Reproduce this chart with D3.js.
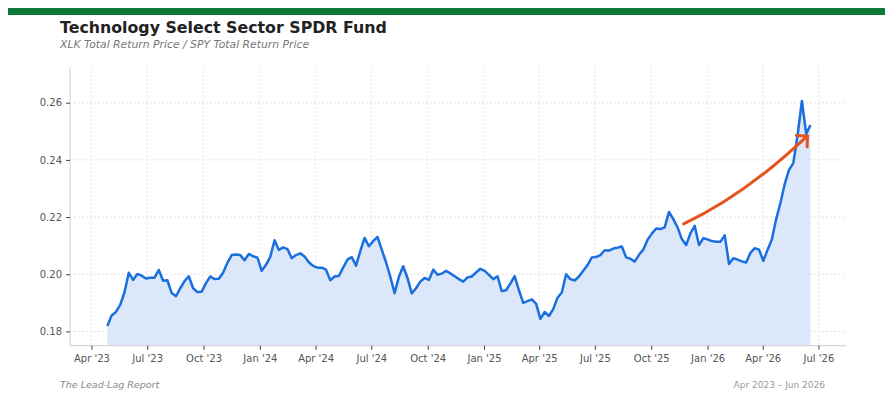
<!DOCTYPE html>
<html><head><meta charset="utf-8">
<script src="https://cdn.jsdelivr.net/npm/d3@7"></script>
<style>body{margin:0;background:#fff;} svg{display:block;font-family:"DejaVu Sans",sans-serif;}</style>
</head><body><svg id="c" width="885" height="399"></svg>
<script>
const title = "Technology Select Sector SPDR Fund";
const subtitle = "XLK Total Return Price / SPY Total Return Price";
const source = "The Lead-Lag Report";
const period = "Apr 2023 – Jun 2026";

// weekly observations starting at this date
const startDate = "2023-04-27";
const ratio = [
0.1819,0.1856,0.1868,0.1893,0.1937,0.2005,0.1980,0.2001,0.1995,0.1985,
0.1988,0.1988,0.2015,0.1977,0.1979,0.1934,0.1923,0.1951,0.1976,0.1993,
0.1951,0.1938,0.1939,0.1969,0.1992,0.1983,0.1984,0.2005,0.2040,0.2067,
0.2069,0.2067,0.2049,0.2071,0.2063,0.2058,0.2012,0.2033,0.2061,0.2119,
0.2085,0.2094,0.2088,0.2056,0.2067,0.2073,0.2062,0.2042,0.2029,0.2023,
0.2023,0.2016,0.1979,0.1992,0.1994,0.2023,0.2051,0.2060,0.2030,0.2081,
0.2127,0.2098,0.2116,0.2131,0.2086,0.2042,0.1991,0.1934,0.1991,0.2028,
0.1987,0.1933,0.1951,0.1974,0.1987,0.1980,0.2016,0.1998,0.2002,0.2012,
0.2003,0.1993,0.1983,0.1974,0.1989,0.1992,0.2006,0.2019,0.2012,0.1998,
0.1983,0.1993,0.1941,0.1944,0.1967,0.1993,0.1944,0.1900,0.1906,0.1912,
0.1897,0.1844,0.1868,0.1854,0.1878,0.1918,0.1936,0.2000,0.1983,0.1978,
0.1992,0.2012,0.2032,0.2059,0.2060,0.2067,0.2084,0.2083,0.2090,0.2093,
0.2097,0.2059,0.2054,0.2044,0.2068,0.2086,0.2121,0.2142,0.2160,0.2158,
0.2164,0.2218,0.2193,0.2164,0.2123,0.2102,0.2143,0.2169,0.2102,0.2126,
0.2122,0.2116,0.2114,0.2114,0.2136,0.2036,0.2056,0.2051,0.2045,0.2041,
0.2075,0.2091,0.2086,0.2047,0.2086,0.2122,0.2193,0.2250,0.2316,0.2365,
0.2389,0.2487,0.2606,0.2491,0.2522
];

const yTicks = [0.18, 0.20, 0.22, 0.24, 0.26];
const xTickDates = ["2023-04-01","2023-07-01","2023-10-01","2024-01-01","2024-04-01","2024-07-01","2024-10-01",
  "2025-01-01","2025-04-01","2025-07-01","2025-10-01","2026-01-01","2026-04-01","2026-07-01"];
const xTickLabels = ["Apr '23","Jul '23","Oct '23","Jan '24","Apr '24","Jul '24","Oct '24",
  "Jan '25","Apr '25","Jul '25","Oct '25","Jan '26","Apr '26","Jul '26"];
const xDomain = ["2023-02-25", "2026-08-15"];
const yDomain = [0.1750, 0.2725];

// trend arrow annotation (date, value): start, bend, end
const arrowDates = ["2025-11-23", "2026-03-03", "2026-06-13"];
const arrowValues = [0.2176, 0.2277, 0.2484];

const parse = d3.utcParse("%Y-%m-%d");
const start = parse(startDate);
const data = ratio.map((v, i) => ({ date: d3.utcDay.offset(start, 7 * i), value: v }));

const svg = d3.select("#c");
const L = 70, R = 846, T = 67, B = 345.7;

const x = d3.scaleUtc().domain(xDomain.map(parse)).range([L, R]);
const y = d3.scaleLinear().domain(yDomain).range([B, T]);

// top band
svg.append("rect").attr("x", 8).attr("y", 8).attr("width", 877).attr("height", 7).attr("fill", "#0d7a3a");

svg.append("text").attr("x", 60).attr("y", 33).attr("font-size", 15.8).attr("font-weight", "bold")
  .attr("fill", "#222").text(title);
svg.append("text").attr("x", 60).attr("y", 48).attr("font-size", 10.8).attr("font-style", "italic")
  .attr("fill", "#777").text(subtitle);

// grid
const grid = svg.append("g");
grid.selectAll("line.h").data(yTicks).join("line").attr("class", "h")
  .attr("x1", L).attr("x2", R).attr("y1", d => y(d)).attr("y2", d => y(d))
  .attr("stroke", "#e2e2e2").attr("stroke-dasharray", "2,2");
grid.selectAll("line.v").data(xTickDates).join("line").attr("class", "v")
  .attr("x1", d => x(parse(d))).attr("x2", d => x(parse(d))).attr("y1", T).attr("y2", B)
  .attr("stroke", "#e2e2e2").attr("stroke-dasharray", "2,2");

// area + line
svg.append("path").datum(data)
  .attr("d", d3.area().x(d => x(d.date)).y0(B).y1(d => y(d.value)))
  .attr("fill", "#dce8fa");
svg.append("path").datum(data)
  .attr("d", d3.line().x(d => x(d.date)).y(d => y(d.value)))
  .attr("fill", "none").attr("stroke", "#1a6fe0").attr("stroke-width", 2.5).attr("stroke-linejoin", "round");

// axes
const yAxis = svg.append("g").attr("transform", `translate(${L},0)`)
  .call(d3.axisLeft(y).tickValues(yTicks).tickFormat(d3.format(".2f")).tickSize(4).tickPadding(4));
const xAxis = svg.append("g").attr("transform", `translate(0,${B})`)
  .call(d3.axisBottom(x).tickValues(xTickDates.map(parse))
    .tickFormat((d, i) => xTickLabels[i]).tickSize(4).tickPadding(5));
[yAxis, xAxis].forEach(g => {
  g.select(".domain").attr("stroke", "#cfcfcf");
  g.selectAll(".tick line").attr("stroke", "#444");
  g.selectAll(".tick text").attr("fill", "#555").attr("font-size", 10).attr("font-family", "DejaVu Sans");
});
yAxis.select(".domain").attr("d", `M0,${T}V${B}`);
xAxis.select(".domain").attr("d", `M${L},0H${R}`);

// arrow
const ap = arrowDates.map((d, i) => [x(parse(d)), y(arrowValues[i])]);
const path = d3.path();
path.moveTo(ap[0][0], ap[0][1]);
path.quadraticCurveTo(ap[1][0], ap[1][1], ap[2][0], ap[2][1]);
svg.append("path").attr("d", path.toString()).attr("fill", "none")
  .attr("stroke", "#e5531f").attr("stroke-width", 3).attr("stroke-linecap", "round");
const ang = Math.atan2(ap[2][1] - ap[1][1], ap[2][0] - ap[1][0]);
const hl = 11;
const head = [ang + Math.PI * 0.75, ang - Math.PI * 0.75].map(a => [ap[2][0] + hl * Math.cos(a), ap[2][1] + hl * Math.sin(a)]);
svg.append("path").attr("d", `M${head[0][0]},${head[0][1]}L${ap[2][0]},${ap[2][1]}L${head[1][0]},${head[1][1]}`)
  .attr("fill", "none").attr("stroke", "#e5531f").attr("stroke-width", 3).attr("stroke-linecap", "round").attr("stroke-linejoin", "round");

// footer
svg.append("text").attr("x", 60).attr("y", 388).attr("font-size", 9.5).attr("font-style", "italic")
  .attr("fill", "#888").text(source);
svg.append("text").attr("x", 825).attr("y", 388).attr("font-size", 9).attr("text-anchor", "end")
  .attr("fill", "#999").text(period);
</script></body></html>
